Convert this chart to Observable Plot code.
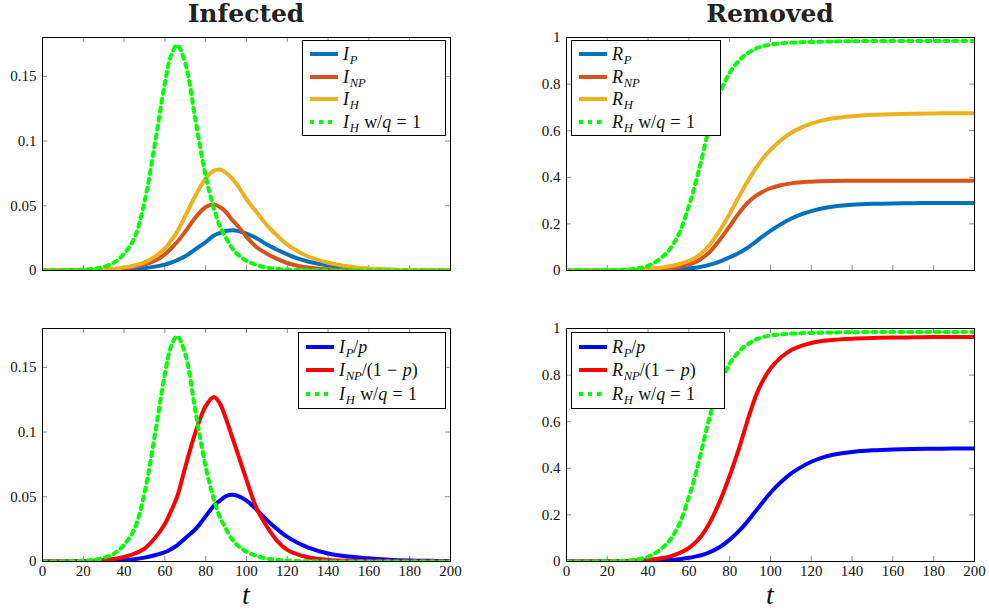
<!DOCTYPE html>
<html>
<head>
<meta charset="utf-8">
<script src="https://cdn.jsdelivr.net/npm/d3@7"></script>
<script src="https://cdn.jsdelivr.net/npm/@observablehq/plot@0.6"></script>
<style>
  body { margin: 0; background: #fff; }
  #fig { position: relative; width: 989px; height: 610px; overflow: hidden; font-family: "Liberation Serif", serif; color: #111; }
  .panel { position: absolute; }
  .panel svg { overflow: visible; font-family: "Liberation Serif", serif !important; font-size: 15px !important; }
  .panel svg text { font-family: "Liberation Serif", serif !important; }
  .title { position: absolute; top: 1px; line-height: 26px; font-family: "DejaVu Serif", serif; font-weight: bold; font-size: 25px; transform: translateX(-50%); white-space: nowrap; color: #222; }
  .xlab { position: absolute; top: 581px; line-height: 28px; font-size: 28px; font-style: italic; transform: translateX(-50%); }
  .legend { position: absolute; border: 1.2px solid #000; background: #fff; box-sizing: border-box; font-family: "Liberation Serif", serif; }
  .legend .row { position: absolute; left: 0; height: 22px; line-height: 22px; white-space: nowrap; font-size: 18px; }
  .legend .row svg { position: absolute; top: 8px; }
  .legend .row .txt { position: absolute; top: 0; }
  .sub { font-size: 0.7em; position: relative; top: 0.3em; font-style: italic; margin-left: 0.05em; }
  .rel { margin: 0 0.3em; }
  .sp { margin-left: 0.3em; }
</style>
</head>
<body>
<div id="fig"></div>
<script>
// Time grid shared by every series (days)
const T = [0, 10, 20, 25, 30, 35, 40, 45, 50, 55, 60, 63, 66, 70, 75, 80, 84, 87, 90, 93,
           96, 100, 105, 110, 115, 120, 125, 130, 140, 150, 160, 170, 180, 190, 200];

// Infected fractions
const I_P  = [0, 0, 0.0001, 0.0001, 0.0002, 0.0004, 0.0007, 0.0011, 0.0018, 0.003, 0.0045, 0.006, 0.008, 0.011, 0.0165, 0.022, 0.027, 0.029, 0.0305, 0.031,
              0.0305, 0.0285, 0.025, 0.020, 0.016, 0.0125, 0.0093, 0.007, 0.004, 0.0022, 0.0011, 0.0006, 0.0003, 0.0002, 0.0001];
const I_NP = [0, 0, 0.0001, 0.0003, 0.0006, 0.001, 0.0017, 0.0028, 0.0045, 0.0075, 0.0125, 0.017, 0.022, 0.030, 0.041, 0.049, 0.051, 0.049, 0.045, 0.039,
              0.034, 0.026, 0.018, 0.013, 0.009, 0.0058, 0.0037, 0.0024, 0.001, 0.0004, 0.0001, 0, 0, 0, 0];
const I_H  = [0, 0, 0.0002, 0.0004, 0.0008, 0.0014, 0.0024, 0.0039, 0.0063, 0.0105, 0.017, 0.023, 0.030, 0.042, 0.058, 0.071, 0.077, 0.078, 0.0755, 0.071,
              0.065, 0.055, 0.045, 0.035, 0.027, 0.020, 0.015, 0.011, 0.006, 0.0032, 0.0015, 0.0008, 0.0004, 0.0002, 0.0001];
const I_H_q1 = [0, 0.0001, 0.0006, 0.0013, 0.0028, 0.006, 0.013, 0.025, 0.053, 0.097, 0.145, 0.166, 0.174, 0.160, 0.116, 0.073, 0.048, 0.034, 0.025, 0.017,
                0.012, 0.0075, 0.0042, 0.0022, 0.0013, 0.0007, 0.0004, 0.0002, 0.0001, 0, 0, 0, 0, 0, 0];
const I_P_norm  = [0, 0, 0.0001, 0.0002, 0.0003, 0.0006, 0.0011, 0.0018, 0.003, 0.0048, 0.0072, 0.0095, 0.0125, 0.018, 0.025, 0.035, 0.043, 0.047, 0.0505, 0.0515,
                   0.0505, 0.047, 0.040, 0.032, 0.025, 0.019, 0.0145, 0.011, 0.0062, 0.0038, 0.0025, 0.0014, 0.0008, 0.0005, 0.0003];
const I_NP_norm = [0, 0, 0.0003, 0.0006, 0.0012, 0.002, 0.0035, 0.006, 0.010, 0.018, 0.029, 0.039, 0.050, 0.073, 0.100, 0.120, 0.127, 0.122, 0.110, 0.096,
                   0.082, 0.063, 0.041, 0.027, 0.016, 0.009, 0.0055, 0.0033, 0.0012, 0.0005, 0.0002, 0.0001, 0, 0, 0];

// Removed fractions
const R_P  = [0, 0, 0, 0.0001, 0.0003, 0.0006, 0.001, 0.002, 0.0035, 0.0055, 0.009, 0.012, 0.016, 0.024, 0.038, 0.057, 0.073, 0.088, 0.105, 0.125,
              0.145, 0.17, 0.198, 0.222, 0.241, 0.255, 0.266, 0.274, 0.282, 0.286, 0.288, 0.289, 0.29, 0.29, 0.29];
const R_NP = [0, 0, 0.0002, 0.0004, 0.0008, 0.0015, 0.003, 0.005, 0.009, 0.015, 0.026, 0.035, 0.05, 0.078, 0.13, 0.19, 0.24, 0.273, 0.30, 0.321,
              0.337, 0.353, 0.366, 0.374, 0.379, 0.381, 0.383, 0.384, 0.385, 0.385, 0.385, 0.385, 0.385, 0.385, 0.385];
const R_H  = [0, 0, 0.0005, 0.001, 0.002, 0.004, 0.007, 0.011, 0.017, 0.027, 0.041, 0.054, 0.073, 0.107, 0.17, 0.243, 0.308, 0.356, 0.40, 0.441,
              0.478, 0.518, 0.558, 0.59, 0.613, 0.63, 0.643, 0.652, 0.662, 0.668, 0.671, 0.673, 0.674, 0.675, 0.675];
const R_H_q1 = [0, 0, 0.001, 0.002, 0.004, 0.009, 0.02, 0.045, 0.085, 0.155, 0.277, 0.367, 0.47, 0.615, 0.757, 0.849, 0.896, 0.921, 0.939, 0.953,
                0.962, 0.97, 0.975, 0.978, 0.98, 0.981, 0.982, 0.983, 0.984, 0.985, 0.985, 0.985, 0.985, 0.985, 0.985];
const R_P_norm  = [0, 0, 0, 0.0001, 0.0005, 0.001, 0.002, 0.0035, 0.006, 0.01, 0.016, 0.021, 0.027, 0.039, 0.061, 0.094, 0.126, 0.154, 0.186, 0.219,
                   0.252, 0.295, 0.34, 0.377, 0.405, 0.428, 0.445, 0.457, 0.47, 0.477, 0.481, 0.483, 0.484, 0.485, 0.485];
const R_NP_norm = [0, 0, 0.0005, 0.001, 0.002, 0.004, 0.007, 0.012, 0.02, 0.035, 0.058, 0.08, 0.108, 0.163, 0.255, 0.368, 0.47, 0.555, 0.64, 0.715,
                   0.772, 0.828, 0.875, 0.907, 0.925, 0.938, 0.946, 0.951, 0.956, 0.959, 0.961, 0.962, 0.963, 0.963, 0.963];

// Axis ticks
const xTicks = [0, 20, 40, 60, 80, 100, 120, 140, 160, 180, 200];
const yTicksI = [0, 0.05, 0.1, 0.15];
const yTicksR = [0, 0.2, 0.4, 0.6, 0.8, 1];

// Line colours
const C = {
  blue: "#0072BD", orange: "#D95319", yellow: "#EDB120", green: "#00FF00",
  pureBlue: "#0000FF", red: "#FF0000"
};

const fig = document.getElementById("fig");

function panel({left, top, width, height, ml, mr, mt, mb, yDomain, yTicks, showX, series}) {
  const innerW = width - ml - mr, innerH = height - mt - mb;
  const tickStyle = {stroke: "#8a8a8a", strokeWidth: 1};
  const marks = [
    Plot.tickX(xTicks, {x: d => d, ...tickStyle, insetTop: innerH - 5}),
    Plot.tickX(xTicks, {x: d => d, ...tickStyle, insetBottom: innerH - 5}),
    Plot.tickY(yTicks, {y: d => d, ...tickStyle, insetRight: innerW - 5}),
    Plot.tickY(yTicks, {y: d => d, ...tickStyle, insetLeft: innerW - 5}),
    Plot.axisY(yTicks, {tickSize: 0, tickPadding: 6, tickFormat: d => String(d), label: null, fill: "#111"}),
    showX ? Plot.axisX(xTicks, {tickSize: 0, tickPadding: 4, tickFormat: d => String(d), label: null, fill: "#111"}) : null,
    ...series.map(s => Plot.line(T.map((t, i) => ({t, v: s.values[i]})), {
      x: "t", y: "v", stroke: s.color, strokeWidth: 4,
      strokeDasharray: s.dotted ? "4,5" : null,
      curve: "catmull-rom", clip: true
    })),
    Plot.frame({stroke: "#000", strokeWidth: 1})
  ].filter(Boolean);
  const svg = Plot.plot({
    width, height,
    marginLeft: ml, marginRight: mr, marginTop: mt, marginBottom: mb,
    x: {domain: [0, 200], axis: null},
    y: {domain: yDomain, axis: null},
    style: {background: "transparent", overflow: "visible"},
    marks
  });
  const div = document.createElement("div");
  div.className = "panel";
  div.style.left = left + "px";
  div.style.top = top + "px";
  div.appendChild(svg);
  fig.appendChild(div);
}

function legend({left, top, width, height, rowTops, items}) {
  const box = document.createElement("div");
  box.className = "legend";
  Object.assign(box.style, {left: left + "px", top: top + "px", width: width + "px", height: height + "px"});
  items.forEach((it, i) => {
    const row = document.createElement("div");
    row.className = "row";
    row.style.top = (rowTops[i] - 11) + "px";
    row.style.width = "100%";
    // dotted sample shows three square dots, solid sample a short bar
    const sample = it.dotted
      ? `<line x1="1" x2="24" y1="3" y2="3" stroke="${it.color}" stroke-width="4" stroke-dasharray="4,5"/>`
      : `<line x1="1" x2="29" y1="3" y2="3" stroke="${it.color}" stroke-width="4"/>`;
    row.innerHTML =
      `<svg width="30" height="6" style="left:6px">${sample}</svg>` +
      `<span class="txt" style="left:40px">${it.html}</span>`;
    box.appendChild(row);
  });
  fig.appendChild(box);
}

function text(cls, x, str) {
  const d = document.createElement("div");
  d.className = cls;
  d.style.left = x + "px";
  d.innerHTML = str;
  fig.appendChild(d);
}

// Panels
panel({left: 0, top: 27, width: 470, height: 253, ml: 42, mr: 20, mt: 10, mb: 10,
  yDomain: [0, 0.18], yTicks: yTicksI, showX: false,
  series: [
    {values: I_P, color: C.blue}, {values: I_NP, color: C.orange},
    {values: I_H, color: C.yellow}, {values: I_H_q1, color: C.green, dotted: true}
  ]});
panel({left: 524, top: 27, width: 465, height: 253, ml: 42, mr: 15, mt: 10, mb: 10,
  yDomain: [0, 1], yTicks: yTicksR, showX: false,
  series: [
    {values: R_P, color: C.blue}, {values: R_NP, color: C.orange},
    {values: R_H, color: C.yellow}, {values: R_H_q1, color: C.green, dotted: true}
  ]});
panel({left: 0, top: 318, width: 470, height: 273, ml: 42, mr: 20, mt: 10, mb: 30,
  yDomain: [0, 0.18], yTicks: yTicksI, showX: true,
  series: [
    {values: I_P_norm, color: C.pureBlue}, {values: I_NP_norm, color: C.red},
    {values: I_H_q1, color: C.green, dotted: true}
  ]});
panel({left: 524, top: 318, width: 465, height: 273, ml: 42, mr: 15, mt: 10, mb: 30,
  yDomain: [0, 1], yTicks: yTicksR, showX: true,
  series: [
    {values: R_P_norm, color: C.pureBlue}, {values: R_NP_norm, color: C.red},
    {values: R_H_q1, color: C.green, dotted: true}
  ]});

// Legends
const sub = s => `<span class="sub">${s}</span>`;
const wq = `<span class="sp">w/<i>q</i></span><span class="rel">=</span>1`;
legend({left: 302, top: 40, width: 144, height: 96, rowTops: [13, 36, 58, 81], items: [
  {color: C.blue, html: `<i>I</i>${sub("P")}`},
  {color: C.orange, html: `<i>I</i>${sub("NP")}`},
  {color: C.yellow, html: `<i>I</i>${sub("H")}`},
  {color: C.green, dotted: true, html: `<i>I</i>${sub("H")}${wq}`}
]});
legend({left: 571, top: 40, width: 150, height: 96, rowTops: [13, 36, 58, 81], items: [
  {color: C.blue, html: `<i>R</i>${sub("P")}`},
  {color: C.orange, html: `<i>R</i>${sub("NP")}`},
  {color: C.yellow, html: `<i>R</i>${sub("H")}`},
  {color: C.green, dotted: true, html: `<i>R</i>${sub("H")}${wq}`}
]});
legend({left: 298, top: 332, width: 148, height: 77, rowTops: [14, 37, 61], items: [
  {color: C.pureBlue, html: `<i>I</i>${sub("P")}/<i>p</i>`},
  {color: C.red, html: `<i>I</i>${sub("NP")}/(1<span class="rel">−</span><i>p</i>)`},
  {color: C.green, dotted: true, html: `<i>I</i>${sub("H")}${wq}`}
]});
legend({left: 571, top: 332, width: 154, height: 77, rowTops: [14, 37, 61], items: [
  {color: C.pureBlue, html: `<i>R</i>${sub("P")}/<i>p</i>`},
  {color: C.red, html: `<i>R</i>${sub("NP")}/(1<span class="rel">−</span><i>p</i>)`},
  {color: C.green, dotted: true, html: `<i>R</i>${sub("H")}${wq}`}
]});

// Titles and axis labels
text("title", 246, "Infected");
text("title", 770, "Removed");
text("xlab", 246, "t");
text("xlab", 770, "t");
</script>
</body>
</html>
